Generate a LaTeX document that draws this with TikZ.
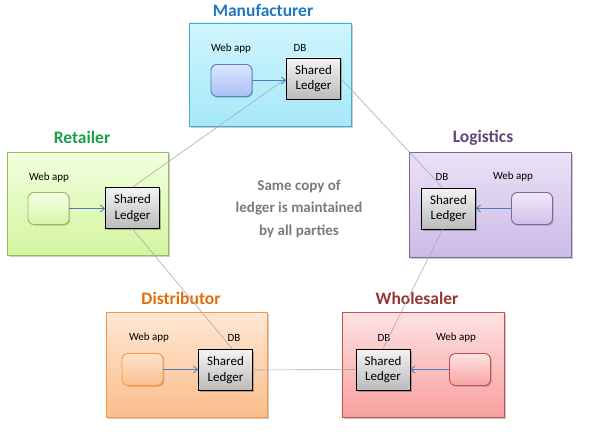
\documentclass[tikz,border=0pt]{standalone}
\usepackage{fontspec}
\setmainfont{Carlito}
\usetikzlibrary{arrows.meta,shadows,calc}
\definecolor{mTop}{HTML}{CFF5FD}\definecolor{mBot}{HTML}{A6E8F9}\definecolor{mBor}{HTML}{4BACC6}
\definecolor{mwTop}{HTML}{DCE6FF}\definecolor{mwBot}{HTML}{A9C1F5}\definecolor{mwBor}{HTML}{4F81BD}
\definecolor{rTop}{HTML}{F2FFDE}\definecolor{rBot}{HTML}{D3F5A0}\definecolor{rBor}{HTML}{9BBB59}
\definecolor{rwTop}{HTML}{F6FFE8}\definecolor{rwBot}{HTML}{D6F5A8}
\definecolor{lTop}{HTML}{EAE2F5}\definecolor{lBot}{HTML}{CBBBE6}\definecolor{lBor}{HTML}{8064A2}
\definecolor{lwTop}{HTML}{F0E8F9}\definecolor{lwBot}{HTML}{D0C0EA}
\definecolor{dTop}{HTML}{FEE7D4}\definecolor{dBot}{HTML}{FBBE8C}\definecolor{dBor}{HTML}{F79646}
\definecolor{dwTop}{HTML}{FEE4CE}\definecolor{dwBot}{HTML}{FBBF8E}
\definecolor{wTop}{HTML}{FDE2E2}\definecolor{wBot}{HTML}{F8A0A0}\definecolor{wBor}{HTML}{C0504D}
\definecolor{wwTop}{HTML}{FFE2E2}\definecolor{wwBot}{HTML}{F8A4A4}
\definecolor{ledTop}{HTML}{F4F4F4}\definecolor{ledBot}{HTML}{BBBBBB}
\definecolor{linkGray}{HTML}{ABABAB}\definecolor{arrBlue}{HTML}{4A7EBB}
\definecolor{tM}{HTML}{1F78BE}\definecolor{tR}{HTML}{1E9E4A}\definecolor{tL}{HTML}{5F497A}
\definecolor{tD}{HTML}{E36C09}\definecolor{tW}{HTML}{953735}\definecolor{midGray}{HTML}{7A7A7A}
\tikzset{
  party/.style={draw=#1, line width=0.9pt, drop shadow={shadow xshift=2pt,shadow yshift=-2pt,opacity=0.2,fill=black}},
  webbox/.style={draw=#1, line width=0.9pt, rounded corners=6pt, minimum width=41pt, minimum height=32pt, inner sep=0pt,
    drop shadow={shadow xshift=1.2pt,shadow yshift=-1.2pt,opacity=0.2,fill=black}},
  ledger/.style={draw=black, line width=0.8pt, top color=ledTop, bottom color=ledBot, minimum width=54pt, minimum height=41pt,
    inner sep=0pt, align=center, font=\fontsize{13}{15.5}\selectfont,
    drop shadow={shadow xshift=1.5pt,shadow yshift=-1.5pt,opacity=0.25,fill=black}},
  title/.style={font=\fontsize{17.5}{20}\selectfont\bfseries, text=#1},
  lbl/.style={font=\fontsize{11}{13}\selectfont, inner sep=0pt},
  link/.style={draw=linkGray, line width=0.6pt},
  feed/.style={draw=arrBlue, line width=0.8pt, -{Straight Barb[length=4pt,width=7pt]}},
}
\begin{document}
\begin{tikzpicture}[x=1pt,y=-1pt]
\useasboundingbox (0,0) rectangle (596,433);
% party boxes
\path[party=mBor, top color=mTop, bottom color=mBot] (189,23) rectangle (351,126);
\path[party=rBor, top color=rTop, bottom color=rBot] (7,152) rectangle (168,255);
\path[party=lBor, top color=lTop, bottom color=lBot] (409,152) rectangle (571,257);
\path[party=dBor, top color=dTop, bottom color=dBot] (106,312) rectangle (267,417);
\path[party=wBor, top color=wTop, bottom color=wBot] (342,312) rectangle (504,417);
% titles
\node[title=tM] (tman) at (263,10) {Manufacturer};
\node[title=tR] (tret) at (82,137) {Retailer};
\node[title=tL] (tlog) at (483,138) {Logistics};
\node[title=tD] (tdis) at (181,298) {Distributor};
\node[title=tW] (twho) at (417,298) {Wholesaler};
% labels
\node[lbl] (mwl) at (231,49) {Web app};
\node[lbl] (mdb) at (300,48) {DB};
\node[lbl] (rwl) at (49,178) {Web app};
\node[lbl] (ldb) at (442,177) {DB};
\node[lbl] (lwl) at (513,177) {Web app};
\node[lbl] (dwl) at (149,338) {Web app};
\node[lbl] (ddb) at (234,338) {DB};
\node[lbl] (wdb) at (384,338) {DB};
\node[lbl] (wwl) at (456,338) {Web app};
% web apps
\node[webbox=mwBor, top color=mwTop, bottom color=mwBot] (mweb) at (231.5,80.5) {};
\node[webbox=rBor, top color=rwTop, bottom color=rwBot] (rweb) at (48.5,208.5) {};
\node[webbox=lBor, top color=lwTop, bottom color=lwBot] (lweb) at (532,208.5) {};
\node[webbox=dBor, top color=dwTop, bottom color=dwBot] (dweb) at (142.5,369.5) {};
\node[webbox=wBor, top color=wwTop, bottom color=wwBot] (wweb) at (470,369.5) {};
% ledgers
\node[ledger] (mled) at (313.5,78.5) {Shared\\Ledger};
\node[ledger] (rled) at (132.5,208) {Shared\\Ledger};
\node[ledger] (lled) at (448.5,208.5) {Shared\\Ledger};
\node[ledger] (dled) at (225.5,370) {Shared\\Ledger};
\node[ledger] (wled) at (383,369.5) {Shared\\Ledger};
% links between ledgers
\draw[link] (rled.north) -- (mled.west);
\draw[link] (mled.east) -- ([xshift=-6pt]lled.north);
\draw[link] ([xshift=-6pt]lled.south) -- (wled.north);
\draw[link] (wled.west) -- (dled.east);
\draw[link] ([xshift=7pt]dled.north) -- (rled.south);
% web app feeds
\draw[feed] (mweb.east) -- (mweb.east -| mled.west);
\draw[feed] (rweb.east) -- (rweb.east -| rled.west);
\draw[feed] (lweb.west) -- (lweb.west -| lled.east);
\draw[feed] (dweb.east) -- (dweb.east -| dled.west);
\draw[feed] (wweb.west) -- (wweb.west -| wled.east);
% centre text
\node[font=\fontsize{15}{22.5}\selectfont\bfseries, text=midGray, align=center] (note) at (299,208.5)
  {Same copy of\\ledger is maintained\\by all parties};
\end{tikzpicture}
\end{document}
